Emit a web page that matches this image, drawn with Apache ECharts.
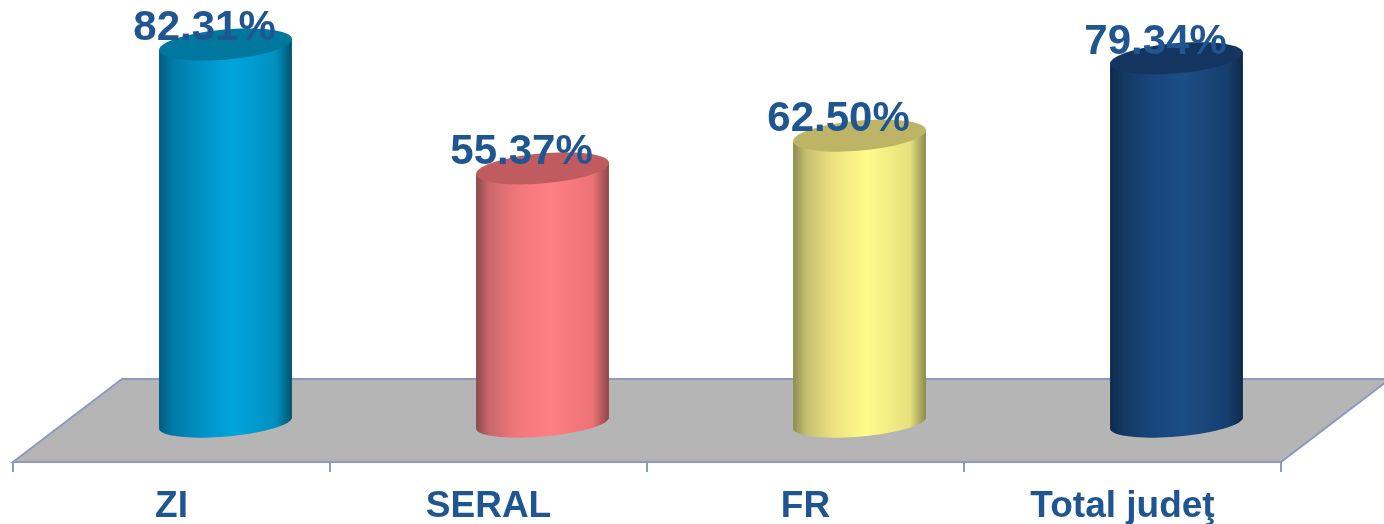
<!DOCTYPE html>
<html><head><meta charset="utf-8">
<style>html,body{margin:0;padding:0;background:#fff}#c{width:1384px;height:524px}</style>
<script src="https://cdn.jsdelivr.net/npm/echarts@6/dist/echarts.min.js"></script>
</head><body><div id="c"></div>
<script>
const categories = ['ZI', 'SERAL', 'FR', 'Total judeţ'];
const values = [82.31, 55.37, 62.50, 79.34];

const shades = [
  ['#005b80', '#0079a6', '#0090c4', '#00a5de', '#0090c0', '#00536e'],
  ['#8a4a4c', '#c9686c', '#f27679', '#ff7f84', '#ec7276', '#8c4749'],
  ['#8e8c50', '#c4bf72', '#eee27f', '#fffb8c', '#e8e07c', '#8a8a50'],
  ['#0e2a4a', '#143a63', '#18447a', '#1c4d85', '#163f6f', '#0e2a48']
];
const lids = ['#00779f', '#c05c60', '#bdb565', '#133560'];
const stops = [0, 0.1, 0.3, 0.55, 0.88, 1];
const TEXT = '#1f5591', LINE = '#8f99bf', FLOOR = '#b5b5b5';
const FONT = '"Liberation Sans", Arial, sans-serif';
const RX = 66.7, RY_TOP = 15, RY_BASE = 13.5, A = 5 * Math.PI / 180, STEPS = 72;

// one point on a tilted ellipse around (cx, cy)
function ell(cx, cy, ry, t) {
  const dx = RX * Math.cos(t), dy = ry * Math.sin(t);
  return [cx + dx * Math.cos(A) + dy * Math.sin(A), cy - dx * Math.sin(A) + dy * Math.cos(A)];
}

function cylinder(params, api) {
  const i = api.value(0);
  const top = api.coord([i, api.value(1)]), base = api.coord([i, 0]);
  const lid = [], lower = [];
  for (let k = 0; k < STEPS; k++) lid.push(ell(top[0], top[1], RY_TOP, 2 * Math.PI * k / STEPS));
  for (let k = 0; k <= STEPS / 2; k++) lower.push(ell(base[0], base[1], RY_BASE, Math.PI * k / (STEPS / 2)));
  const body = [ell(top[0], top[1], RY_TOP, Math.PI), ell(top[0], top[1], RY_TOP, 0)].concat(lower);
  const grad = new echarts.graphic.LinearGradient(0, 0, 1, 0,
    stops.map((offset, s) => ({offset, color: shades[i][s]})));
  return {type: 'group', children: [
    {type: 'polygon', shape: {points: body}, style: {fill: grad}},
    {type: 'polygon', shape: {points: lid}, style: {fill: lids[i]}},
    {type: 'text', x: top[0] - 21, y: top[1] - 16, style: {
      text: values[i].toFixed(2) + '%', fill: TEXT, font: 'bold 42px ' + FONT, align: 'center', verticalAlign: 'middle'
    }}
  ]};
}

function floor(params) {
  const s = params.coordSys, x = s.x, y = s.y, w = s.width, h = s.height, d = 109;
  return {type: 'polygon', shape: {points: [[x, y + h], [x + d, y], [x + w + d, y], [x + w, y + h]]},
          style: {fill: FLOOR, stroke: LINE, lineWidth: 2}};
}

const chart = echarts.init(document.getElementById('c'), null, {renderer: 'canvas'});
chart.setOption({
  animation: false,
  backgroundColor: '#fff',
  grid: [
    {left: 67, top: 0, width: 1268, height: 423, outerBoundsMode: 'none'},
    {left: 13, top: 379, width: 1268, height: 83, outerBoundsMode: 'none'}
  ],
  xAxis: [
    {gridIndex: 0, type: 'category', data: categories, show: false},
    {gridIndex: 1, type: 'category', data: categories,
     axisLine: {lineStyle: {color: LINE, width: 2}},
     axisTick: {show: true, length: 10, alignWithLabel: false, lineStyle: {color: LINE, width: 2}},
     axisLabel: {color: TEXT, fontFamily: FONT, fontWeight: 'bold', fontSize: 37, margin: 26, interval: 0}}
  ],
  yAxis: [
    {gridIndex: 0, type: 'value', min: 0, max: 92, show: false},
    {gridIndex: 1, type: 'value', min: 0, max: 1, show: false}
  ],
  series: [
    {type: 'custom', name: 'floor', xAxisIndex: 1, yAxisIndex: 1, z: 1, clip: false, silent: true,
     renderItem: floor, data: [[0, 0]]},
    {type: 'custom', name: 'values', xAxisIndex: 0, yAxisIndex: 0, z: 5, clip: false,
     renderItem: cylinder, encode: {x: 0, y: 1}, data: values.map((v, i) => [i, v])}
  ]
});
</script></body></html>
